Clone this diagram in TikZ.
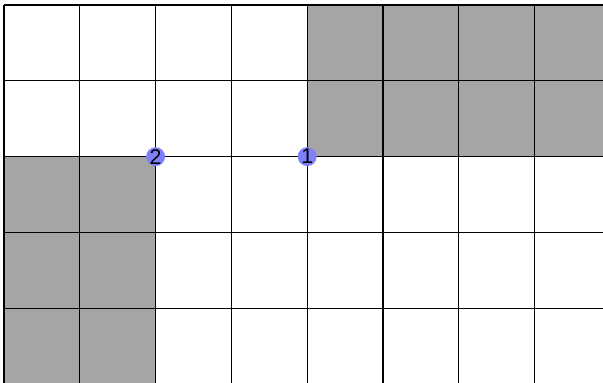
\documentclass[tikz,border=0pt]{standalone}
\usepackage{fontspec}
\newfontfamily\markfont{Liberation Sans}
\usepackage{tikz}
\usetikzlibrary{positioning}
\definecolor{cellgrey}{RGB}{165,165,165}
\definecolor{markblue}{RGB}{128,128,250}
\tikzset{
  marker/.style={circle,fill=markblue,inner sep=0pt,minimum size=0.25cm,font=\markfont\fontsize{8}{8}\selectfont},
}
\begin{document}
\begin{tikzpicture}[line width=0.5pt]
\useasboundingbox (-0.053,0.066) rectangle (7.902,-4.974);
\clip (-0.053,0.066) rectangle (7.902,-4.974);
% shaded cells
\fill[cellgrey] (4,0) rectangle (8,-2);
\fill[cellgrey] (0,-2) rectangle (2,-5);
% grid
\foreach \i in {0,...,8} \draw (\i,0)--(\i,-5);
\foreach \j in {0,...,5} \draw (0,-\j)--(8,-\j);
% corner markers
\node[marker] (m2) at (2,-2){2};
\node[marker] (m1) at (4,-2){1};
\end{tikzpicture}
\end{document}
